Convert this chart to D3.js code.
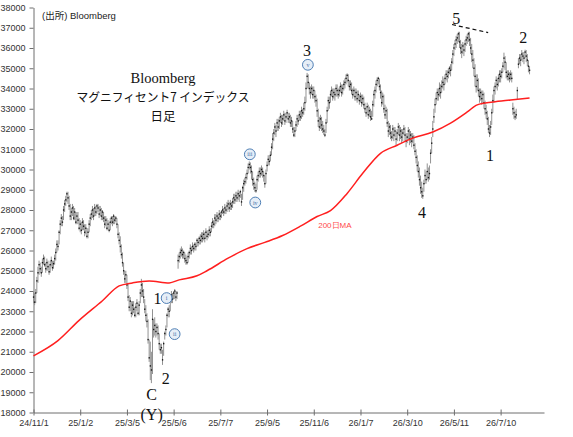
<!DOCTYPE html>
<html><head><meta charset="utf-8">
<script src="https://cdn.jsdelivr.net/npm/d3@7"></script>
<style>body{margin:0;background:#fff}svg{display:block}</style>
</head><body>
<svg id="c" width="573" height="437"></svg>
<script>
// ---- data (bar index = trading day) ----
const tickBarIndex = [0,42,84,126,168,210,252,294,336,378,420];
const tickLabels = ["24/11/1","25/1/2","25/3/5","25/5/6","25/7/7","25/9/5","25/11/6","26/1/7","26/3/10","26/5/11","26/7/10"];
const yTicks = [18000,19000,20000,21000,22000,23000,24000,25000,26000,27000,28000,29000,30000,31000,32000,33000,34000,35000,36000,37000,38000];

const closes = [
23700,23450,23900,24500,24900,25300,25100,24900,25400,25600,
25300,25100,25400,25200,24950,25300,25500,25150,25350,25600,
25900,26300,26200,26900,27300,27600,27400,28000,28300,28500,
28800,28600,28200,27700,27900,28100,27600,27900,27400,27700,
27500,27100,27300,27000,27400,27200,26900,27100,26700,26900,
27300,27600,27800,28000,27700,28100,27900,28200,28100,27800,
28000,27700,27900,27600,27300,27500,27100,27300,27000,27400,
27600,27400,27700,27500,27600,27300,26800,26500,26200,25800,
25400,25000,24600,24800,24300,23700,23200,23500,22900,23300,
23100,22800,23200,23400,22900,23300,23900,24300,24000,23700,
23100,22800,22500,21600,20700,20300,20100,22600,22100,22300,
22000,22200,21900,21400,21100,21200,20600,21400,21900,22100,
22800,23100,23000,23500,23800,23600,23900,24000,23700,23900,
25500,25700,25900,26000,25800,25900,25600,25500,25400,25700,
25900,26100,26000,26200,26100,26300,26200,26500,26400,26600,
26500,26700,26600,26800,26600,26900,26700,26800,27000,26900,
27200,27400,27300,27600,27500,27700,27600,27800,27700,27900,
28000,27900,28100,28000,28200,28300,28100,28300,28200,28400,
28600,28500,28700,28600,28800,28700,28900,28400,29100,29300,
29400,29600,29800,30100,30250,30100,29900,29500,29300,29100,
28950,29500,29700,29900,29800,30000,29900,29700,29300,29800,
30200,30500,30400,30700,31100,31500,31800,32100,31900,32300,
32100,32400,32600,32300,32500,32700,32400,32600,32800,32500,
32600,32300,32400,32000,31700,31900,32200,32500,32400,32700,
32600,32900,32800,33000,33300,34000,34600,34300,34000,33800,
34000,33700,33900,33600,33400,32900,32400,32100,32500,32200,
32000,31900,31700,32300,32900,33400,33300,33700,33900,33600,
33800,33700,34000,33900,33700,33900,34100,33800,34000,34200,
34300,34500,34650,34400,34100,34200,33900,33700,33900,33600,
33800,33500,33700,33400,33600,33300,33500,33200,33000,32800,
33100,32700,32900,32600,32500,33200,33700,33900,34200,34400,
34500,34100,33800,33300,33600,33000,32700,32900,32300,31900,
32100,31800,31600,32000,31700,31900,31500,31800,32100,31700,
31900,31600,31800,32000,31700,31400,31600,31900,31500,31700,
31400,31600,31200,30900,30600,30200,29900,29500,29100,28900,
28700,29300,29700,29500,29900,29600,29800,30800,31300,32000,
32600,33200,33500,33800,33700,34000,33800,34100,34300,34200,
34500,34700,34600,34800,35000,34900,35300,35700,36000,36200,
36400,36500,36700,36300,36000,35800,36100,35900,36200,36400,
36500,36700,36400,36000,35700,35400,35000,34600,34100,34400,
33900,33600,33800,33500,33700,33300,33000,32800,32500,32000,
31800,32100,32800,33400,33900,34100,34400,34200,34500,34700,
34600,34800,35100,35500,35300,34800,34600,34700,34500,34700,
34500,33000,32800,32600,32700,33900,35200,35500,35400,35700,
35600,35500,35800,35600,35400,35100,34900];

const highs = [
24000,23900,24100,24700,25200,25500,25400,25200,25600,25800,
25700,25400,25600,25500,25300,25500,25700,25500,25500,25800,
26100,26500,26500,27000,27500,27800,27700,28200,28500,28700,
28900,28900,28700,28300,28100,28300,28200,28100,27900,27900,
27900,27600,27500,27400,27600,27500,27300,27300,27100,27100,
27500,27800,28000,28200,28100,28300,28200,28300,28300,28200,
28200,28100,28000,27900,27700,27700,27600,27500,27400,27600,
27700,27700,27800,27700,27700,27600,27300,26900,26700,26300,
25900,25400,25000,25000,24800,24400,23800,23700,23500,23500,
23500,23200,23400,23600,23400,23500,24100,24600,24400,24100,
23600,23300,22900,22600,21600,21500,21000,23100,22600,22700,
22400,22400,22300,21900,21400,21400,21100,21500,22000,22300,
22900,23200,23300,23700,24000,23900,24000,24100,24000,24000,
25800,25900,26100,26200,26100,26000,25900,25800,25700,25900,
26000,26300,26200,26400,26300,26400,26400,26600,26600,26700,
26800,26900,26900,27000,26900,27100,27000,27000,27200,27100,
27400,27600,27500,27800,27800,27900,27800,28000,27900,28000,
28200,28100,28300,28200,28400,28500,28400,28500,28400,28600,
28800,28800,28900,28900,29000,28900,29000,28800,29200,29500,
29600,29800,30000,30300,30400,30350,30200,29900,29600,29400,
29300,29700,29900,30100,30100,30200,30100,29900,29700,30000,
30400,30700,30700,30900,31300,31800,32000,32300,32200,32500,
32500,32600,32800,32700,32700,32900,32800,32800,32950,32800,
32800,32700,32600,32400,32100,32100,32400,32700,32700,32900,
32900,33100,33000,33300,33600,34300,34770,34700,34300,34100,
34200,34100,34100,33900,33700,33500,33000,32600,32700,32600,
32400,32200,32000,32500,33100,33600,33600,33900,34100,34000,
34000,34000,34200,34200,34000,34100,34300,34200,34200,34400,
34500,34700,34750,34700,34400,34400,34300,34000,34100,34000,
34000,33900,33900,33700,33800,33700,33700,33600,33300,33100,
33300,33200,33100,33000,32900,33400,33900,34100,34400,34550,
34580,34500,34200,33900,33800,33700,33200,33100,33000,32400,
32300,32200,31900,32200,32100,32100,31900,32000,32300,32200,
32100,32000,32000,32200,32100,31800,31800,32100,32000,31900,
31800,31800,31700,31300,31000,30700,30400,30100,29700,29400,
29100,29500,30000,29900,30300,30100,30200,31000,31600,32400,
33000,33500,33800,34000,34000,34300,34200,34400,34600,34500,
34700,34900,34900,35000,35100,35200,35500,35900,36200,36400,
36600,36700,36800,36800,36400,36200,36300,36200,36400,36600,
36700,36800,36800,36500,36200,35900,35500,35200,34700,34700,
34500,34000,34000,33900,33900,33800,33400,33200,32900,32600,
32200,32400,33000,33700,34100,34300,34600,34500,34700,34900,
34900,35000,35300,35770,35600,35300,34900,34900,34800,34900,
34800,33300,33100,32900,33000,34080,35500,35700,35700,35900,
35800,35800,35916,35900,35700,35400,35100];

const lows = [
23400,23300,23400,23900,24400,24800,24900,24700,24900,25300,
25200,24900,25000,25000,24800,24900,25200,25000,25100,25300,
25500,25900,26000,26300,26800,27200,27200,27500,27900,28200,
28400,28300,28000,27500,27500,27700,27500,27500,27300,27300,
27300,27000,26900,26800,27000,27000,26700,26800,26600,26600,
26900,27200,27500,27600,27500,27700,27700,27800,27900,27600,
27700,27500,27500,27400,27100,27200,27000,27000,26900,27000,
27300,27200,27300,27300,27400,27100,26600,26300,25900,25600,
25200,24800,24400,24400,24100,23500,23000,23000,22700,22800,
22900,22700,22700,23000,22800,22800,23400,23700,23700,23400,
22900,22500,22200,21400,20500,19600,19450,19900,21700,21800,
21700,21800,21600,21100,20900,20900,20350,20800,21600,21800,
22200,22700,22700,23000,23400,23400,23600,23600,23500,23600,
25100,25400,25600,25700,25600,25600,25400,25300,25300,25400,
25600,25800,25800,26000,25900,26000,26000,26200,26200,26300,
26300,26400,26400,26500,26400,26600,26500,26600,26700,26700,
26900,27100,27100,27200,27300,27400,27400,27500,27500,27600,
27800,27700,27800,27800,27900,28000,27900,28000,28000,28100,
28300,28300,28400,28400,28500,28400,28600,28200,28500,28900,
29200,29300,29500,29800,30000,29800,29500,29200,29000,28900,
28850,29000,29400,29600,29600,29700,29600,29400,29100,29300,
29900,30200,30200,30400,30700,31000,31400,31700,31600,31900,
31900,32000,32300,32100,32200,32400,32200,32300,32500,32300,
32300,32100,32100,31800,31600,31600,31900,32100,32200,32400,
32400,32500,32600,32700,32900,33300,34000,34000,33700,33500,
33700,33500,33500,33300,33100,32600,32100,31900,32000,31900,
31800,31700,31600,31800,32300,32900,33000,33300,33600,33400,
33500,33400,33600,33600,33500,33600,33800,33600,33700,33900,
34000,34200,34300,34100,33900,33900,33700,33500,33600,33400,
33400,33300,33400,33200,33300,33100,33200,33000,32800,32600,
32700,32500,32600,32400,32440,32600,33100,33500,33800,34100,
34200,33900,33500,33100,33200,32800,32500,32500,32100,31600,
31700,31500,31400,31500,31400,31600,31200,31400,31700,31400,
31500,31300,31400,31700,31400,31100,31300,31500,31200,31300,
31100,31300,31000,30700,30300,29900,29600,29200,28800,28600,
28550,28900,29300,29300,29500,29400,29500,30300,30800,31600,
32300,32800,33200,33400,33400,33600,33500,33800,34000,33900,
34200,34400,34300,34500,34700,34600,34900,35200,35600,35900,
36000,36200,36300,36000,35700,35500,35700,35600,35800,36100,
36200,36300,36100,35700,35300,35000,34600,34100,33800,33900,
33600,33300,33400,33200,33300,33000,32700,32500,32200,31800,
31600,31700,32200,32800,33300,33700,34000,33900,34100,34300,
34300,34500,34800,35000,34900,34500,34400,34400,34300,34400,
34300,32700,32500,32440,32500,33430,35000,35200,35100,35400,
35300,35200,35500,35300,35100,34800,34700];

// 200-day moving average, read at sample bars
const maBarIndex = [0,22,41,62,77,89,104,122,131,147,156,175,192,208,224,240,255,267,282,296,312,327,341,359,375,390,399,413,429,446];
const maValues  = [20800,21550,22550,23520,24250,24400,24500,24400,24550,24750,25000,25620,26090,26400,26740,27200,27680,27970,28820,29810,30800,31200,31550,31850,32290,32840,33190,33330,33430,33530];

// annotations anchored in data coordinates (bar index, price)
const waveText  = ["5","3","2","1","4","1","2","C","(Y)"];
const waveBar   = [380,245.8,440.3,410.5,349.3,111.6,118.8,106.2,106.2];
const wavePrice = [37450,35900,36500,30700,27880,23640,19700,18900,17880];
const circText  = ["i","ii","iii","iv","v"];
const circBar   = [119.7,126.9,194.5,199.4,246.7];
const circPrice = [23650,21870,30750,28370,35170];
const trendBar   = [376.3,408.8];
const trendPrice = [37160,36760];
const maLabel = {text:"200日MA", bar:271, price:27230};

// ---- drawing ----
const svg = d3.select("#c");
const x = d3.scaleLinear().domain([0,459]).range([33.5,544]);
const y = d3.scaleLinear().domain([18000,38000]).range([412.5,7.5]);
const AX = "#6e6e6e", TXT = "#333";
const sans = "'Liberation Sans','DejaVu Sans',sans-serif";
const serif = "'Liberation Serif','DejaVu Serif','Noto Sans CJK JP',serif";

// y axis
const ya = svg.append("g").attr("transform","translate(33.5,0)")
  .call(d3.axisLeft(y).tickValues(yTicks).tickSize(4).tickSizeOuter(0).tickPadding(4).tickFormat(d3.format("d")));
ya.select(".domain").attr("stroke",AX);
ya.selectAll(".tick line").attr("stroke",AX);
ya.selectAll(".tick text").attr("fill",TXT).style("font-family",sans).style("font-size","9px");

// x axis
const xa = svg.append("g").attr("transform","translate(0,412.5)")
  .call(d3.axisBottom(x).tickValues(tickBarIndex).tickFormat((d,i)=>tickLabels[i]).tickSizeOuter(0));
xa.select(".domain").attr("stroke",AX);
xa.selectAll(".tick line").attr("stroke",AX).attr("y1",-3).attr("y2",3);
xa.selectAll(".tick text").attr("fill",TXT).attr("y",7).style("font-family",sans).style("font-size","9px");

// bars
const idx = d3.range(closes.length);
svg.append("g").selectAll("line").data(idx).join("line")
  .attr("x1",i=>x(i)).attr("x2",i=>x(i))
  .attr("y1",i=>y(lows[i])).attr("y2",i=>y(highs[i]))
  .attr("stroke","#929292").attr("stroke-width",1);
svg.append("g").selectAll("rect").data(idx).join("rect")
  .attr("x",i=>x(i)-0.6).attr("y",i=>y(closes[i])-0.7)
  .attr("width",1.3).attr("height",1.4).attr("fill","#151515");

// moving average
const line = d3.line().x(d=>x(d[0])).y(d=>y(d[1])).curve(d3.curveMonotoneX);
svg.append("path").datum(maBarIndex.map((b,i)=>[b,maValues[i]]))
  .attr("d",line).attr("fill","none").attr("stroke","#ff1f1f").attr("stroke-width",1.5);
svg.append("text").attr("x",x(maLabel.bar)).attr("y",y(maLabel.price))
  .attr("text-anchor","middle").attr("dominant-baseline","central")
  .attr("fill","#ff4a4a").style("font-family",sans).style("font-size","8px").text(maLabel.text);

// trend (dashed) line
svg.append("line").attr("x1",x(trendBar[0])).attr("y1",y(trendPrice[0]))
  .attr("x2",x(trendBar[1])).attr("y2",y(trendPrice[1]))
  .attr("stroke","#111").attr("stroke-width",1.2).attr("stroke-dasharray","4,3");

// wave labels
svg.append("g").selectAll("text").data(waveText).join("text")
  .attr("x",(d,i)=>x(waveBar[i])).attr("y",(d,i)=>y(wavePrice[i]))
  .attr("text-anchor","middle").attr("dominant-baseline","central")
  .attr("fill","#111").style("font-family",serif).style("font-size","16px").text(d=>d);

// circled numerals
const cg = svg.append("g").selectAll("g").data(circText).join("g")
  .attr("transform",(d,i)=>`translate(${x(circBar[i])},${y(circPrice[i])})`);
cg.append("circle").attr("r",5.4).attr("fill","#e6eef7").attr("stroke","#4f7fb5").attr("stroke-width",1);
cg.append("text").attr("text-anchor","middle").attr("dominant-baseline","central")
  .attr("fill","#3f6fa8").style("font-family",serif).style("font-size","6px").text(d=>d);

// title
const tg = svg.append("g").attr("fill","#111").attr("text-anchor","middle");
tg.append("text").attr("x",163).attr("y",83).style("font-family",serif).style("font-size","14.5px").text("Bloomberg");
tg.append("text").attr("x",163).attr("y",102).style("font-family","'Noto Sans CJK JP',sans-serif").style("font-size","12.5px")
  .attr("textLength",173).attr("lengthAdjust","spacingAndGlyphs").text("マグニフィセント7 インデックス");
tg.append("text").attr("x",163).attr("y",121).style("font-family","'Noto Sans CJK JP',sans-serif").style("font-size","12.5px").text("日足");

// source
svg.append("text").attr("x",42).attr("y",18.5).attr("fill","#222")
  .style("font-family","'Liberation Sans','Noto Sans CJK JP',sans-serif").style("font-size","9.5px").text("(出所) Bloomberg");
</script>
</body></html>
